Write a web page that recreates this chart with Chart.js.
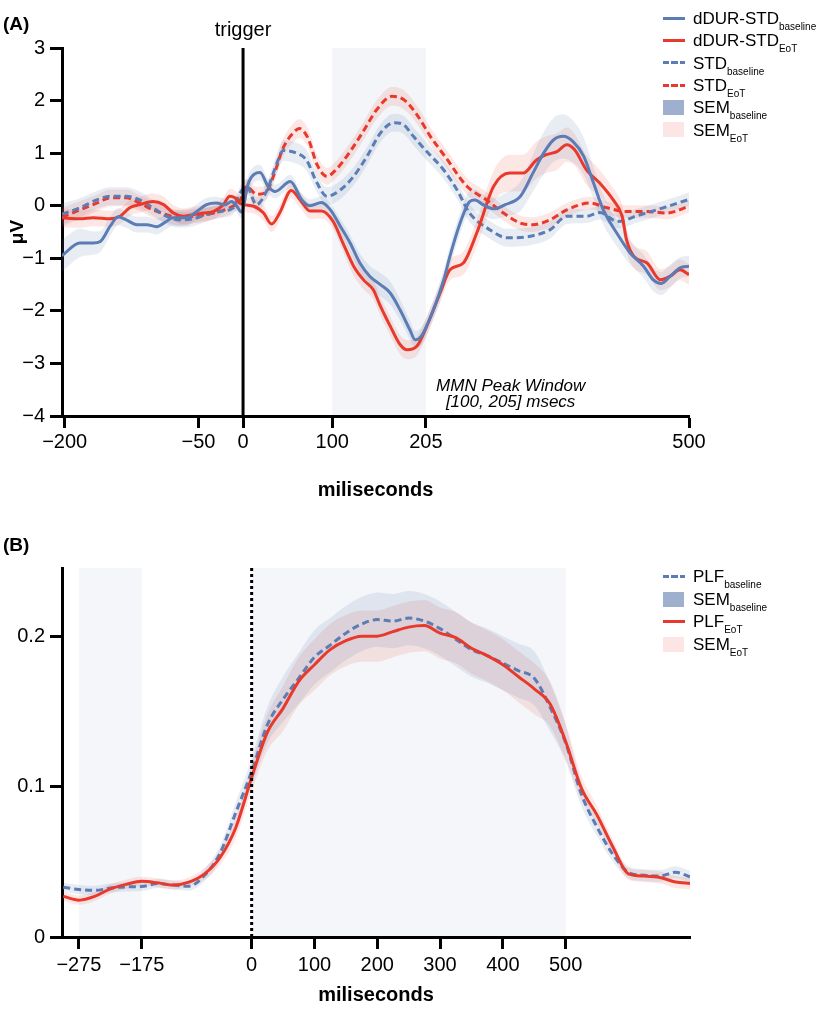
<!DOCTYPE html>
<html><head><meta charset="utf-8">
<script src="https://cdn.jsdelivr.net/npm/chart.js@4.4.1/dist/chart.umd.min.js"></script>
<style>
html,body{margin:0;padding:0;background:#fff;}
body{width:816px;height:1024px;position:relative;overflow:hidden;font-family:'Liberation Sans',Arial,Helvetica,sans-serif;color:#000;}
canvas{position:absolute;left:0;display:block;}
#cA{top:0}
#cB{top:510px}
.row{position:absolute;left:693px;font-size:17px;line-height:20px;white-space:nowrap;}
.row sub{font-size:10px;vertical-align:-6px;line-height:0;}
.sw{position:absolute;left:663px;width:22px;}
.ln{height:3px;}
.bx{height:15px;width:21px;}
.panel{position:absolute;left:3px;font-weight:bold;font-size:19px;line-height:20px;}
</style></head>
<body>
<canvas id="cA" width="816" height="510"></canvas>
<canvas id="cB" width="816" height="514"></canvas>

<div class="panel" style="top:14px">(A)</div>
<div class="panel" style="top:535px">(B)</div>

<!-- legend A -->
<div class="sw ln" style="top:16.8px;background:#5b7cb4"></div>
<div class="row" style="top:9px">dDUR-STD<sub>baseline</sub></div>
<div class="sw ln" style="top:39.1px;background:#e8392c"></div>
<div class="row" style="top:31.3px">dDUR-STD<sub>EoT</sub></div>
<div class="sw ln" style="top:61.4px;background:repeating-linear-gradient(to right,#5b7cb4 0 6px,transparent 6px 8.5px)"></div>
<div class="row" style="top:53.6px">STD<sub>baseline</sub></div>
<div class="sw ln" style="top:83.7px;background:repeating-linear-gradient(to right,#e8392c 0 6px,transparent 6px 8.5px)"></div>
<div class="row" style="top:75.9px">STD<sub>EoT</sub></div>
<div class="sw bx" style="top:100px;background:#9fb0cf"></div>
<div class="row" style="top:98.2px">SEM<sub>baseline</sub></div>
<div class="sw bx" style="top:122.3px;background:#fde5e5"></div>
<div class="row" style="top:120.5px">SEM<sub>EoT</sub></div>

<!-- legend B -->
<div class="sw ln" style="top:575.2px;background:repeating-linear-gradient(to right,#5b7cb4 0 6px,transparent 6px 8.5px)"></div>
<div class="row" style="top:567.4px">PLF<sub>baseline</sub></div>
<div class="sw bx" style="top:591.5px;background:#9fb0cf"></div>
<div class="row" style="top:589.7px">SEM<sub>baseline</sub></div>
<div class="sw ln" style="top:620.2px;background:#e8392c"></div>
<div class="row" style="top:612.4px">PLF<sub>EoT</sub></div>
<div class="sw bx" style="top:637px;background:#fde5e5"></div>
<div class="row" style="top:635.2px">SEM<sub>EoT</sub></div>

<script>
const F = "'Liberation Sans', Arial, Helvetica, sans-serif";
const BLUE = '#5b7cb4', RED = '#e8392c';
const BLUE_BAND = 'rgba(91,124,180,0.14)', RED_BAND = 'rgba(232,57,44,0.12)';

// ---------- Panel A data ----------
const aXTicks = [-200, -50, 0, 100, 205, 500];
const aYTicks = [-4, -3, -2, -1, 0, 1, 2, 3];
const mmnWindow = [100, 205];

const dDurBaseT = [-203,-183,-168,-160,-149,-140,-131,-119,-108,-97,-86,-79,-63,-52,-41,-30,-20,-13,-7,-2,6,19,28,36,53,66,75,88,98,109,120,131,142,154,165,176,187,193,200,212,225,232,243,254,260,269,281,294,311,325,337,348,359,370,382,393,404,419,434,449,460,469,479,490,500];
const dDurBaseV = [-0.95,-0.71,-0.71,-0.68,-0.39,-0.21,-0.27,-0.36,-0.36,-0.40,-0.30,-0.23,-0.23,-0.11,0.02,0.05,0.02,0.08,-0.01,-0.12,0.43,0.63,0.37,0.27,0.46,0.11,0.00,0.06,-0.08,-0.39,-0.71,-1.09,-1.34,-1.50,-1.66,-1.98,-2.36,-2.55,-2.48,-2.04,-1.41,-0.96,-0.35,0.08,0.11,0.02,-0.06,0.02,0.18,0.62,1.00,1.25,1.32,1.22,0.94,0.43,-0.08,-0.52,-0.90,-1.15,-1.41,-1.48,-1.34,-1.18,-1.15];
const dDurBaseSem = [0.30,0.27,0.22,0.2,0.18,0.16,0.15,0.15,0.15,0.15,0.15,0.15,0.15,0.14,0.13,0.12,0.12,0.12,0.12,0.12,0.15,0.15,0.14,0.13,0.13,0.12,0.12,0.12,0.12,0.14,0.16,0.18,0.2,0.22,0.22,0.2,0.18,0.17,0.17,0.18,0.2,0.2,0.2,0.2,0.2,0.2,0.2,0.22,0.28,0.35,0.4,0.42,0.42,0.4,0.35,0.3,0.28,0.25,0.22,0.22,0.22,0.22,0.22,0.2,0.2];

const dDurEoTT = [-203,-183,-168,-149,-138,-127,-116,-101,-89,-78,-67,-56,-45,-33,-22,-15,-9,-3,12,23,32,41,54,64,75,88,101,112,124,135,146,154,165,176,184,195,206,221,232,247,262,281,299,314,329,340,352,363,372,385,400,415,425,430,438,453,468,479,490,500];
const dDurEoTV = [-0.23,-0.25,-0.23,-0.25,-0.20,-0.04,0.02,0.08,0.02,-0.14,-0.20,-0.17,-0.14,-0.11,0.02,0.18,0.15,0.04,-0.01,-0.14,-0.35,-0.14,0.29,0.11,-0.10,-0.10,-0.30,-0.71,-1.15,-1.41,-1.60,-1.91,-2.29,-2.64,-2.74,-2.67,-2.29,-1.66,-1.22,-1.09,-0.52,0.37,0.62,0.62,0.87,0.97,1.03,1.16,1.06,0.68,0.43,0.11,-0.20,-0.65,-0.96,-1.09,-1.41,-1.34,-1.22,-1.31];
const dDurEoTSem = [0.18,0.17,0.16,0.15,0.15,0.15,0.15,0.15,0.15,0.15,0.15,0.15,0.15,0.14,0.14,0.14,0.14,0.14,0.14,0.15,0.15,0.15,0.15,0.15,0.15,0.15,0.15,0.16,0.18,0.18,0.18,0.18,0.18,0.18,0.18,0.18,0.18,0.18,0.2,0.22,0.25,0.3,0.35,0.35,0.35,0.35,0.35,0.33,0.3,0.28,0.25,0.22,0.22,0.22,0.22,0.22,0.2,0.2,0.2,0.2];

const stdBaseT = [-203,-183,-164,-149,-131,-116,-101,-86,-71,-56,-41,-26,-11,-3,4,15,27,38,45,60,71,83,94,109,124,139,154,169,180,191,206,225,240,254,277,296,322,344,363,385,400,420,442,471,500];
const stdBaseV = [-0.16,-0.04,0.11,0.18,0.18,0.11,-0.04,-0.20,-0.27,-0.25,-0.17,-0.11,-0.04,0.25,0.37,0.02,0.30,0.81,1.05,1.00,0.87,0.43,0.18,0.30,0.56,0.94,1.38,1.58,1.54,1.32,1.03,0.68,0.30,-0.14,-0.46,-0.61,-0.58,-0.46,-0.20,-0.20,-0.13,-0.30,-0.19,-0.04,0.12];
const stdBaseSem = [0.2,0.18,0.17,0.17,0.17,0.16,0.15,0.15,0.15,0.14,0.13,0.12,0.12,0.13,0.14,0.14,0.15,0.18,0.2,0.2,0.2,0.18,0.17,0.17,0.17,0.17,0.17,0.17,0.17,0.17,0.17,0.17,0.17,0.17,0.17,0.17,0.17,0.17,0.15,0.13,0.13,0.13,0.13,0.13,0.13];

const stdEoTT = [-203,-183,-164,-149,-131,-116,-101,-86,-71,-56,-41,-26,-15,-3,4,15,25,34,45,56,63,73,83,94,105,120,135,150,167,180,195,210,228,251,273,292,311,325,344,363,389,408,430,453,475,500];
const stdEoTV = [-0.22,-0.08,0.05,0.15,0.15,0.05,-0.08,-0.17,-0.23,-0.20,-0.17,-0.11,-0.04,0.11,0.37,0.22,0.24,0.56,1.10,1.38,1.47,1.28,0.78,0.56,0.70,1.03,1.42,1.83,2.08,2.02,1.73,1.32,0.90,0.37,0.11,-0.14,-0.33,-0.36,-0.27,-0.08,0.05,-0.04,-0.11,-0.11,-0.14,-0.01];
const stdEoTSem = [0.18,0.17,0.16,0.16,0.16,0.15,0.15,0.15,0.15,0.14,0.13,0.12,0.12,0.13,0.14,0.14,0.14,0.15,0.17,0.18,0.18,0.18,0.17,0.16,0.16,0.17,0.17,0.18,0.18,0.18,0.17,0.17,0.17,0.16,0.15,0.14,0.14,0.14,0.14,0.13,0.12,0.12,0.12,0.12,0.12,0.12];

// ---------- Panel B data ----------
const bXTicks = [-275, -175, 0, 100, 200, 300, 400, 500];
const bYTicks = [0, 0.1, 0.2];
const bWindows = [[-275, -175], [0, 500]];
const timeB = [-300,-275,-250,-225,-200,-175,-150,-125,-100,-75,-50,-25,0,25,50,75,100,125,150,175,200,225,250,275,300,325,350,375,400,425,450,475,500,525,550,575,600,625,650,675,698];
const plfBaseline = [0.033,0.0316,0.031,0.0325,0.0333,0.0335,0.0355,0.0345,0.0338,0.041,0.056,0.083,0.11,0.141,0.158,0.172,0.186,0.194,0.202,0.208,0.211,0.21,0.212,0.21,0.205,0.198,0.191,0.187,0.182,0.177,0.172,0.153,0.129,0.095,0.073,0.055,0.043,0.041,0.0405,0.043,0.04];
const semBaselineB = [0.003,0.003,0.003,0.003,0.003,0.003,0.003,0.003,0.003,0.004,0.005,0.007,0.009,0.012,0.015,0.017,0.018,0.018,0.018,0.018,0.018,0.018,0.018,0.018,0.018,0.018,0.018,0.018,0.018,0.018,0.018,0.016,0.012,0.008,0.006,0.005,0.004,0.004,0.004,0.004,0.004];
const plfEoT = [0.027,0.0245,0.027,0.032,0.035,0.037,0.036,0.0345,0.0365,0.042,0.053,0.073,0.106,0.136,0.152,0.170,0.181,0.191,0.197,0.200,0.200,0.203,0.206,0.207,0.202,0.199,0.192,0.187,0.181,0.173,0.165,0.155,0.13,0.099,0.081,0.06,0.042,0.0405,0.0396,0.0365,0.0356];
const semEoTB = [0.003,0.003,0.003,0.003,0.003,0.003,0.003,0.003,0.003,0.004,0.005,0.007,0.009,0.012,0.015,0.016,0.017,0.017,0.017,0.017,0.017,0.017,0.017,0.017,0.017,0.017,0.017,0.017,0.017,0.017,0.017,0.015,0.012,0.008,0.006,0.005,0.004,0.004,0.004,0.004,0.004];

// ---------- helpers ----------
const fmt = v => (v < 0 ? '\u2212' + Math.abs(v) : String(v));
const pts = (ts, vs, sem, sign) => ts.map((t, i) => ({x: t, y: vs[i] + (sem ? sign * sem[i] : 0)}));
function lineDs(ts, vs, color, dash, order) {
  return {data: pts(ts, vs), borderColor: color, borderWidth: 3, borderDash: dash || [],
    pointRadius: 0, pointHoverRadius: 0, fill: false, cubicInterpolationMode: 'monotone', order};
}
function bandDs(ts, vs, sem, color) {
  const common = {borderColor: 'rgba(0,0,0,0)', borderWidth: 0, pointRadius: 0, pointHoverRadius: 0,
    cubicInterpolationMode: 'monotone', order: 10};
  return [
    Object.assign({data: pts(ts, vs, sem, -1), fill: false}, common),
    Object.assign({data: pts(ts, vs, sem, 1), fill: '-1', backgroundColor: color}, common)
  ];
}
function axis(o) {
  return {
    type: 'linear', min: o.min, max: o.max,
    afterBuildTicks: s => { s.ticks = o.ticks.map(v => ({value: v})); },
    afterFit: s => { if (o.w) s.width = o.w; if (o.h) s.height = o.h; },
    grid: {display: true, drawOnChartArea: false, drawTicks: true, tickLength: 12, tickWidth: 3, tickColor: '#000'},
    border: {display: true, color: '#000', width: 3},
    ticks: {color: '#000', font: {family: F, size: 20}, padding: o.pad, autoSkip: false,
      maxRotation: 0, minRotation: 0, callback: v => fmt(v)},
    title: o.title ? {display: true, text: o.title, color: '#000',
      font: {family: F, size: o.ts || 20, weight: 'bold'}, padding: o.tp} : {display: false}
  };
}

// ---------- Chart A ----------
const annA = {
  id: 'annA',
  beforeDraw(c) {
    const {ctx, chartArea: a, scales: {x}} = c;
    const x0 = x.getPixelForValue(mmnWindow[0]), x1 = x.getPixelForValue(mmnWindow[1]);
    ctx.save(); ctx.fillStyle = '#f3f5f9'; ctx.fillRect(x0, a.top, x1 - x0, a.bottom - a.top); ctx.restore();
  },
  afterDatasetsDraw(c) {
    const {ctx, chartArea: a, scales: {x}} = c;
    const x0 = x.getPixelForValue(0);
    ctx.save(); ctx.strokeStyle = '#000'; ctx.lineWidth = 3;
    ctx.beginPath(); ctx.moveTo(x0, a.top); ctx.lineTo(x0, a.bottom); ctx.stroke(); ctx.restore();
  },
  afterDraw(c) {
    const {ctx, chartArea: a, scales: {x}} = c;
    ctx.save(); ctx.fillStyle = '#000'; ctx.textAlign = 'center'; ctx.textBaseline = 'alphabetic';
    ctx.font = '20px ' + F;
    ctx.fillText('trigger', x.getPixelForValue(0), 36);
    ctx.font = 'italic 17px ' + F;
    const xc = x.getPixelForValue(300);
    ctx.fillText('MMN Peak Window', xc, a.bottom - 25.5);
    ctx.fillText('[100, 205] msecs', xc, a.bottom - 9.5);
    ctx.restore();
  }
};

new Chart(document.getElementById('cA'), {
  type: 'line',
  data: {datasets: [
    ...bandDs(dDurBaseT, dDurBaseV, dDurBaseSem, BLUE_BAND),
    ...bandDs(dDurEoTT, dDurEoTV, dDurEoTSem, RED_BAND),
    ...bandDs(stdBaseT, stdBaseV, stdBaseSem, BLUE_BAND),
    ...bandDs(stdEoTT, stdEoTV, stdEoTSem, RED_BAND),
    lineDs(stdEoTT, stdEoTV, RED, [7, 4], 4),
    lineDs(stdBaseT, stdBaseV, BLUE, [7, 4], 3),
    lineDs(dDurEoTT, dDurEoTV, RED, null, 2),
    lineDs(dDurBaseT, dDurBaseV, BLUE, null, 1)
  ]},
  options: {
    responsive: false, animation: false, events: [],
    layout: {padding: {top: 48, right: 127, bottom: 0, left: 0}},
    plugins: {legend: {display: false}, tooltip: {enabled: false}},
    scales: {
      x: axis({min: -203, max: 500, ticks: aXTicks, h: 94, pad: 2, title: 'miliseconds', ts: 20, tp: {top: 0, bottom: 8}}),
      y: axis({min: -4, max: 3, ticks: aYTicks, w: 62, pad: 5, title: '\u03bcV', ts: 19, tp: {top: 6, bottom: 0}})
    }
  },
  plugins: [annA]
});

// ---------- Chart B ----------
const annB = {
  id: 'annB',
  beforeDraw(c) {
    const {ctx, chartArea: a, scales: {x}} = c;
    ctx.save(); ctx.fillStyle = '#f4f6f9';
    bWindows.forEach(w => {
      const x0 = x.getPixelForValue(w[0]), x1 = x.getPixelForValue(w[1]);
      ctx.fillRect(x0, a.top, x1 - x0, a.bottom - a.top);
    });
    ctx.restore();
  },
  afterDatasetsDraw(c) {
    const {ctx, chartArea: a, scales: {x}} = c;
    const x0 = x.getPixelForValue(0);
    ctx.save(); ctx.strokeStyle = '#000'; ctx.lineWidth = 3; ctx.setLineDash([3, 3]);
    ctx.beginPath(); ctx.moveTo(x0, a.top); ctx.lineTo(x0, a.bottom); ctx.stroke(); ctx.restore();
  }
};

new Chart(document.getElementById('cB'), {
  type: 'line',
  data: {datasets: [
    ...bandDs(timeB, plfBaseline, semBaselineB, BLUE_BAND),
    ...bandDs(timeB, plfEoT, semEoTB, RED_BAND),
    lineDs(timeB, plfBaseline, BLUE, [7, 4], 2),
    lineDs(timeB, plfEoT, RED, null, 1)
  ]},
  options: {
    responsive: false, animation: false, events: [],
    layout: {padding: {top: 58, right: 126, bottom: 0, left: 0}},
    plugins: {legend: {display: false}, tooltip: {enabled: false}},
    scales: {
      x: axis({min: -302, max: 698, ticks: bXTicks, h: 87, pad: 4, title: 'miliseconds', ts: 20, tp: {top: 0, bottom: 17}}),
      y: axis({min: 0, max: 0.2453, ticks: bYTicks, w: 62, pad: 5})
    }
  },
  plugins: [annB]
});
</script>
</body></html>
